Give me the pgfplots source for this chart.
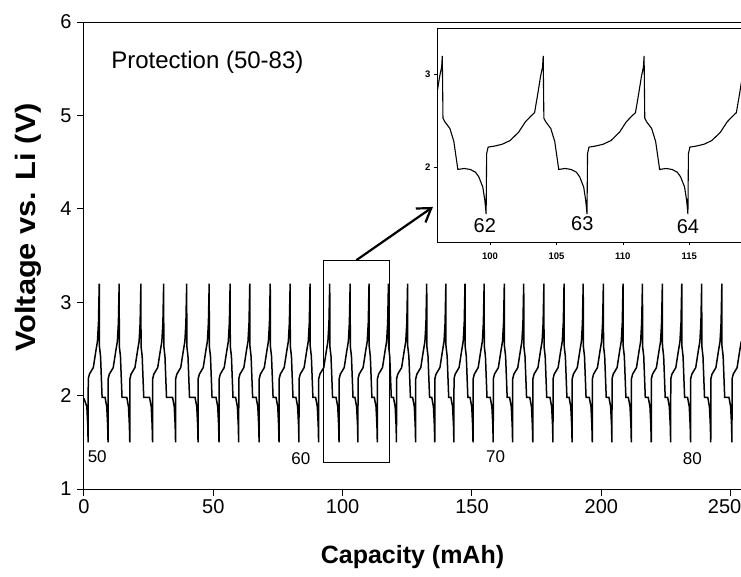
\documentclass[border=0pt]{standalone}
\usepackage{graphicx}
\usepackage{pgfplots}
\pgfplotsset{compat=1.18}
\usepackage{fontspec}
\setmainfont{Liberation Sans}
\usetikzlibrary{arrows.meta}
\begin{document}
\begin{tikzpicture}
\begin{axis}[
  name=main,
  at={(0pt,0pt)}, anchor=south west,
  width=657pt, height=467pt, scale only axis,
  xmin=0, xmax=254, ymin=1, ymax=6,
  xtick={0,50,100,150,200}, ytick={1,2,3,4,5,6},
  extra x ticks={250},
  extra x tick style={xticklabel style={xshift=-6pt}},
  tick pos=left, tick align=outside, major tick length=7pt,
  tick style={black, line width=1pt},
  axis line style={line width=1pt},
  /pgf/number format/assume math mode=true,
  ticklabel style={font=\fontsize{20}{20}\selectfont},
  yticklabel style={xshift=-2pt},
  xlabel={Capacity (mAh)},
  ylabel={\scalebox{1.1}[1]{Voltage  vs. Li (V)}},
  xlabel style={font=\bfseries\fontsize{25}{25}\selectfont, at={(axis description cs:0.5,-0.145)}, anchor=center},
  ylabel style={font=\bfseries\fontsize{28}{28}\selectfont, at={(axis description cs:-0.084,0.56)}, anchor=center},
  clip=true,
]
\addplot[black, line width=1.5pt] coordinates {
(0,1.97) (1.1,1.88) (1.45,1.68)
(1.6,1.50) (1.65,2.18) (2.1,2.23) (3.6,2.30) (4.6,2.48) (5.2,2.58) (5.6,2.78) (5.9,3.20) (5.95,2.53) (6.4,2.42) (7.0,1.98) (8.15,1.98) (8.8,1.88) (9.15,1.68)
(9.3,1.50) (9.35,2.18) (9.8,2.23) (11.3,2.30) (12.3,2.48) (12.9,2.58) (13.3,2.78) (13.6,3.20) (13.65,2.53) (14.1,2.42) (14.7,1.98) (16.55,1.98) (17.2,1.88) (17.55,1.68)
(17.7,1.50) (17.75,2.18) (18.2,2.23) (19.7,2.30) (20.7,2.48) (21.3,2.58) (21.7,2.78) (22.0,3.20) (22.05,2.53) (22.5,2.42) (23.1,1.98) (25.35,1.98) (26.0,1.88) (26.35,1.68)
(26.5,1.50) (26.55,2.18) (27.0,2.23) (28.5,2.30) (29.5,2.48) (30.1,2.58) (30.5,2.78) (30.8,3.20) (30.85,2.53) (31.3,2.42) (31.9,1.98) (34.25,1.98) (34.9,1.88) (35.25,1.68)
(35.4,1.50) (35.45,2.18) (35.9,2.23) (37.4,2.30) (38.4,2.48) (39.0,2.58) (39.4,2.78) (39.7,3.20) (39.75,2.53) (40.2,2.42) (40.8,1.98) (42.95,1.98) (43.6,1.88) (43.95,1.68)
(44.1,1.50) (44.15,2.18) (44.6,2.23) (46.1,2.30) (47.1,2.48) (47.7,2.58) (48.1,2.78) (48.4,3.20) (48.45,2.53) (48.9,2.42) (49.5,1.98) (51.05,1.98) (51.7,1.88) (52.05,1.68)
(52.2,1.50) (52.25,2.18) (52.7,2.23) (54.2,2.30) (55.2,2.48) (55.8,2.58) (56.2,2.78) (56.5,3.20) (56.55,2.53) (57.0,2.42) (57.6,1.98) (58.65,1.98) (59.3,1.88) (59.65,1.68)
(59.8,1.50) (59.85,2.18) (60.3,2.23) (61.8,2.30) (62.8,2.48) (63.4,2.58) (63.8,2.78) (64.1,3.20) (64.15,2.53) (64.6,2.42) (65.2,1.98) (66.55,1.98) (67.2,1.88) (67.55,1.68)
(67.7,1.50) (67.75,2.18) (68.2,2.23) (69.7,2.30) (70.7,2.48) (71.3,2.58) (71.7,2.78) (72.0,3.20) (72.05,2.53) (72.5,2.42) (73.1,1.98) (74.25,1.98) (74.9,1.88) (75.25,1.68)
(75.4,1.50) (75.45,2.18) (75.9,2.23) (77.4,2.30) (78.4,2.48) (79.0,2.58) (79.4,2.78) (79.7,3.20) (79.75,2.53) (80.2,2.42) (80.8,1.98) (81.95,1.98) (82.6,1.88) (82.95,1.68)
(83.1,1.50) (83.15,2.18) (83.6,2.23) (85.1,2.30) (86.1,2.48) (86.7,2.58) (87.1,2.78) (87.4,3.20) (87.45,2.53) (87.9,2.42) (88.5,1.98) (89.55,1.98) (90.2,1.88) (90.55,1.68)
(90.7,1.50) (90.75,2.18) (91.2,2.23) (92.7,2.30) (93.7,2.48) (94.3,2.58) (94.7,2.78) (95.0,3.20) (95.05,2.53) (95.5,2.42) (96.1,1.98) (97.45,1.98) (98.1,1.88) (98.45,1.68)
(98.6,1.50) (98.65,2.18) (99.1,2.23) (100.6,2.30) (101.6,2.48) (102.2,2.58) (102.6,2.78) (102.9,3.20) (102.95,2.53) (103.4,2.42) (104.0,1.98) (104.75,1.98) (105.4,1.88) (105.75,1.68)
(105.9,1.50) (105.95,2.18) (106.4,2.23) (107.9,2.30) (108.9,2.48) (109.5,2.58) (109.9,2.78) (110.2,3.20) (110.25,2.53) (110.7,2.42) (111.3,1.98) (112.25,1.98) (112.9,1.88) (113.25,1.68)
(113.4,1.50) (113.45,2.18) (113.9,2.23) (115.4,2.30) (116.4,2.48) (117.0,2.58) (117.4,2.78) (117.7,3.20) (117.75,2.53) (118.2,2.42) (118.8,1.98) (119.65,1.98) (120.3,1.88) (120.65,1.68)
(120.8,1.50) (120.85,2.18) (121.3,2.23) (122.8,2.30) (123.8,2.48) (124.4,2.58) (124.8,2.78) (125.1,3.20) (125.15,2.53) (125.6,2.42) (126.2,1.98) (127.05,1.98) (127.7,1.88) (128.05,1.68)
(128.2,1.50) (128.25,2.18) (128.7,2.23) (130.2,2.30) (131.2,2.48) (131.8,2.58) (132.2,2.78) (132.5,3.20) (132.55,2.53) (133.0,2.42) (133.6,1.98) (134.45,1.98) (135.1,1.88) (135.45,1.68)
(135.6,1.50) (135.65,2.18) (136.1,2.23) (137.6,2.30) (138.6,2.48) (139.2,2.58) (139.6,2.78) (139.9,3.20) (139.95,2.53) (140.4,2.42) (141.0,1.98) (141.85,1.98) (142.5,1.88) (142.85,1.68)
(143.0,1.50) (143.05,2.18) (143.5,2.23) (145.0,2.30) (146.0,2.48) (146.6,2.58) (147.0,2.78) (147.3,3.20) (147.35,2.53) (147.8,2.42) (148.4,1.98) (149.25,1.98) (149.9,1.88) (150.25,1.68)
(150.4,1.50) (150.45,2.18) (150.9,2.23) (152.4,2.30) (153.4,2.48) (154.0,2.58) (154.4,2.78) (154.7,3.20) (154.75,2.53) (155.2,2.42) (155.8,1.98) (157.05,1.98) (157.7,1.88) (158.05,1.68)
(158.2,1.50) (158.25,2.18) (158.7,2.23) (160.2,2.30) (161.2,2.48) (161.8,2.58) (162.2,2.78) (162.5,3.20) (162.55,2.53) (163.0,2.42) (163.6,1.98) (164.55,1.98) (165.2,1.88) (165.55,1.68)
(165.7,1.50) (165.75,2.18) (166.2,2.23) (167.7,2.30) (168.7,2.48) (169.3,2.58) (169.7,2.78) (170.0,3.20) (170.05,2.53) (170.5,2.42) (171.1,1.98) (172.35,1.98) (173.0,1.88) (173.35,1.68)
(173.5,1.50) (173.55,2.18) (174.0,2.23) (175.5,2.30) (176.5,2.48) (177.1,2.58) (177.5,2.78) (177.8,3.20) (177.85,2.53) (178.3,2.42) (178.9,1.98) (180.15,1.98) (180.8,1.88) (181.15,1.68)
(181.3,1.50) (181.35,2.18) (181.8,2.23) (183.3,2.30) (184.3,2.48) (184.9,2.58) (185.3,2.78) (185.6,3.20) (185.65,2.53) (186.1,2.42) (186.7,1.98) (187.55,1.98) (188.2,1.88) (188.55,1.68)
(188.7,1.50) (188.75,2.18) (189.2,2.23) (190.7,2.30) (191.7,2.48) (192.3,2.58) (192.7,2.78) (193.0,3.20) (193.05,2.53) (193.5,2.42) (194.1,1.98) (195.35,1.98) (196.0,1.88) (196.35,1.68)
(196.5,1.50) (196.55,2.18) (197.0,2.23) (198.5,2.30) (199.5,2.48) (200.1,2.58) (200.5,2.78) (200.8,3.20) (200.85,2.53) (201.3,2.42) (201.9,1.98) (202.95,1.98) (203.6,1.88) (203.95,1.68)
(204.1,1.50) (204.15,2.18) (204.6,2.23) (206.1,2.30) (207.1,2.48) (207.7,2.58) (208.1,2.78) (208.4,3.20) (208.45,2.53) (208.9,2.42) (209.5,1.98) (210.45,1.98) (211.1,1.88) (211.45,1.68)
(211.6,1.50) (211.65,2.18) (212.1,2.23) (213.6,2.30) (214.6,2.48) (215.2,2.58) (215.6,2.78) (215.9,3.20) (215.95,2.53) (216.4,2.42) (217.0,1.98) (218.15,1.98) (218.8,1.88) (219.15,1.68)
(219.3,1.50) (219.35,2.18) (219.8,2.23) (221.3,2.30) (222.3,2.48) (222.9,2.58) (223.3,2.78) (223.6,3.20) (223.65,2.53) (224.1,2.42) (224.7,1.98) (225.65,1.98) (226.3,1.88) (226.65,1.68)
(226.8,1.50) (226.85,2.18) (227.3,2.23) (228.8,2.30) (229.8,2.48) (230.4,2.58) (230.8,2.78) (231.1,3.20) (231.15,2.53) (231.6,2.42) (232.2,1.98) (233.35,1.98) (234.0,1.88) (234.35,1.68)
(234.5,1.50) (234.55,2.18) (235.0,2.23) (236.5,2.30) (237.5,2.48) (238.1,2.58) (238.5,2.78) (238.8,3.20) (238.85,2.53) (239.3,2.42) (239.9,1.98) (241.15,1.98) (241.8,1.88) (242.15,1.68)
(242.3,1.50) (242.35,2.18) (242.8,2.23) (244.3,2.30) (245.3,2.48) (245.9,2.58) (246.3,2.78) (246.6,3.20) (246.65,2.53) (247.1,2.42) (247.7,1.98) (249.35,1.98) (250.0,1.88) (250.35,1.68)
(250.5,1.50) (250.55,2.18) (251.0,2.23) (252.5,2.30) (253.5,2.48) (254.1,2.58)
};
\node[anchor=west, font=\fontsize{24}{24}\selectfont] at (axis cs:9.2,5.57) {Protection (50-83)};
\node[anchor=west, font=\fontsize{17}{17}\selectfont, inner sep=1pt] at (axis cs:1.0,1.35) {50};
\node[font=\fontsize{17}{17}\selectfont] at (axis cs:83.8,1.32) {60};
\node[font=\fontsize{17}{17}\selectfont] at (axis cs:159.1,1.35) {70};
\node[font=\fontsize{17}{17}\selectfont] at (axis cs:235.2,1.33) {80};
\draw[line width=0.6pt] (axis cs:92.7,1.29) rectangle (axis cs:118.2,3.45);
\draw[line width=2.2pt, -{Straight Barb[length=13pt,width=17pt,line width=2.2pt]}] (axis cs:105.3,3.45) -- (axis cs:134.9,4.02);
\end{axis}
\begin{axis}[
  at={(353pt,247pt)}, anchor=south west,
  width=304pt, height=214pt, scale only axis,
  xmin=96, xmax=118.9, ymin=1.2, ymax=3.5,
  xtick={100,105,110,115}, ytick={2,3},
  tick pos=left, tick align=outside, major tick length=3pt,
  tick style={black, line width=0.7pt},
  axis line style={line width=0.8pt},
  axis background/.style={fill=white},
  /pgf/number format/assume math mode=true,
  ticklabel style={font=\bfseries\fontsize{9.5}{9.5}\selectfont},
  xticklabel style={yshift=-4pt},
  clip=true,
]
\addplot[black, line width=1.1pt] coordinates {
(95.45,2.55) (95.75,2.59) (96.0,2.80) (96.2,2.98) (96.35,3.08) (96.4,3.20)
(96.45,2.53) (96.6,2.49) (96.97,2.42) (97.27,2.28) (97.57,1.98) (98.05,1.99) (98.5,1.98) (98.9,1.95) (99.15,1.90) (99.45,1.79) (99.6,1.65) (99.67,1.55)
(99.7,1.50) (99.74,2.15) (99.85,2.22) (100.3,2.23) (100.9,2.25) (101.5,2.29) (102.15,2.38) (102.65,2.49) (103.05,2.55) (103.35,2.59) (103.6,2.80) (103.8,2.98) (103.95,3.08) (104.0,3.20)
(104.05,2.53) (104.2,2.49) (104.57,2.42) (104.87,2.28) (105.17,1.98) (105.65,1.99) (106.1,1.98) (106.5,1.95) (106.75,1.90) (107.05,1.79) (107.2,1.65) (107.27,1.55)
(107.3,1.50) (107.34,2.15) (107.45,2.22) (107.9,2.23) (108.5,2.25) (109.1,2.29) (109.75,2.38) (110.25,2.49) (110.65,2.55) (110.95,2.59) (111.2,2.80) (111.4,2.98) (111.55,3.08) (111.6,3.20)
(111.65,2.53) (111.8,2.49) (112.17,2.42) (112.47,2.28) (112.77,1.98) (113.25,1.99) (113.7,1.98) (114.1,1.95) (114.35,1.90) (114.65,1.79) (114.8,1.65) (114.87,1.55)
(114.9,1.50) (114.94,2.15) (115.05,2.22) (115.5,2.23) (116.1,2.25) (116.7,2.29) (117.35,2.38) (117.85,2.49) (118.25,2.55) (118.55,2.59) (118.8,2.80) (119.0,2.98) (119.15,3.08) (119.2,3.20)
};
\node[font=\fontsize{20}{20}\selectfont] at (axis cs:99.6,1.38) {62};
\node[font=\fontsize{20}{20}\selectfont] at (axis cs:106.95,1.40) {63};
\node[font=\fontsize{20}{20}\selectfont] at (axis cs:114.9,1.36) {64};
\end{axis}
\pgfresetboundingbox
\useasboundingbox (-84pt,-87pt) rectangle (657pt,489pt);
\end{tikzpicture}
\end{document}
